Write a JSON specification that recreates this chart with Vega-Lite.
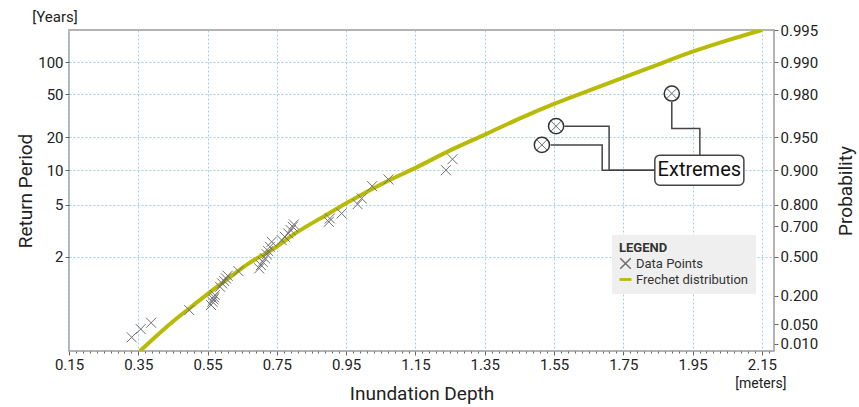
{
  "$schema": "https://vega.github.io/schema/vega-lite/v6.json",
  "width": 705,
  "height": 321,
  "autosize": {"type": "none"},
  "padding": {"left": 69, "top": 30, "right": 85, "bottom": 56},
  "background": "white",
  "config": {
    "font": "Roboto",
    "view": {"stroke": "#9a9a9a", "strokeWidth": 1.5},
    "axis": {
      "domain": false,
      "labelFont": "Roboto",
      "labelFontSize": 15,
      "labelColor": "#222222",
      "labelFlush": false,
      "labelOverlap": false,
      "tickColor": "#666666",
      "tickSize": 4,
      "titleFont": "Roboto",
      "titleFontSize": 19,
      "titleFontWeight": "normal",
      "titleColor": "#222222",
      "gridColor": "#9fcde6",
      "gridDash": [2, 2],
      "gridWidth": 1,
      "gridOpacity": 1
    }
  },
  "datasets": {
    "curve": [
      {"depth": 0.355, "z": -1.68}, {"depth": 0.40, "z": -1.37}, {"depth": 0.45, "z": -1.04},
      {"depth": 0.50, "z": -0.74}, {"depth": 0.557, "z": -0.40}, {"depth": 0.60, "z": -0.16},
      {"depth": 0.672, "z": 0.24}, {"depth": 0.74, "z": 0.54}, {"depth": 0.80, "z": 0.86},
      {"depth": 0.90, "z": 1.31}, {"depth": 0.95, "z": 1.53}, {"depth": 1.05, "z": 1.94},
      {"depth": 1.153, "z": 2.31}, {"depth": 1.25, "z": 2.68}, {"depth": 1.355, "z": 3.04},
      {"depth": 1.45, "z": 3.37}, {"depth": 1.55, "z": 3.69}, {"depth": 1.683, "z": 4.07},
      {"depth": 1.817, "z": 4.45}, {"depth": 1.952, "z": 4.83}, {"depth": 2.05, "z": 5.07},
      {"depth": 2.15, "z": 5.297}
    ],
    "points": [
      {"depth": 0.331, "z": -1.384, "series": "Data Points"},
      {"depth": 0.357, "z": -1.204, "series": "Data Points"},
      {"depth": 0.387, "z": -1.067, "series": "Data Points"},
      {"depth": 0.497, "z": -0.791, "series": "Data Points"},
      {"depth": 0.560, "z": -0.682, "series": "Data Points"},
      {"depth": 0.564, "z": -0.611, "series": "Data Points"},
      {"depth": 0.567, "z": -0.559, "series": "Data Points"},
      {"depth": 0.569, "z": -0.515, "series": "Data Points"},
      {"depth": 0.571, "z": -0.465, "series": "Data Points"},
      {"depth": 0.586, "z": -0.285, "series": "Data Points"},
      {"depth": 0.592, "z": -0.211, "series": "Data Points"},
      {"depth": 0.598, "z": -0.161, "series": "Data Points"},
      {"depth": 0.603, "z": -0.102, "series": "Data Points"},
      {"depth": 0.608, "z": -0.046, "series": "Data Points"},
      {"depth": 0.639, "z": 0.056, "series": "Data Points"},
      {"depth": 0.699, "z": 0.115, "series": "Data Points"},
      {"depth": 0.704, "z": 0.186, "series": "Data Points"},
      {"depth": 0.709, "z": 0.258, "series": "Data Points"},
      {"depth": 0.716, "z": 0.332, "series": "Data Points"},
      {"depth": 0.721, "z": 0.419, "series": "Data Points"},
      {"depth": 0.725, "z": 0.491, "series": "Data Points"},
      {"depth": 0.730, "z": 0.584, "series": "Data Points"},
      {"depth": 0.735, "z": 0.693, "series": "Data Points"},
      {"depth": 0.764, "z": 0.729, "series": "Data Points"},
      {"depth": 0.773, "z": 0.801, "series": "Data Points"},
      {"depth": 0.783, "z": 0.875, "series": "Data Points"},
      {"depth": 0.790, "z": 0.947, "series": "Data Points"},
      {"depth": 0.796, "z": 1.018, "series": "Data Points"},
      {"depth": 0.799, "z": 1.070, "series": "Data Points"},
      {"depth": 0.900, "z": 1.127, "series": "Data Points"},
      {"depth": 0.903, "z": 1.201, "series": "Data Points"},
      {"depth": 0.937, "z": 1.309, "series": "Data Points"},
      {"depth": 0.983, "z": 1.511, "series": "Data Points"},
      {"depth": 0.995, "z": 1.635, "series": "Data Points"},
      {"depth": 1.025, "z": 1.902, "series": "Data Points"},
      {"depth": 1.072, "z": 2.048, "series": "Data Points"},
      {"depth": 1.238, "z": 2.250, "series": "Data Points"},
      {"depth": 1.257, "z": 2.489, "series": "Data Points"},
      {"depth": 1.515, "z": 2.799, "series": "Data Points"},
      {"depth": 1.556, "z": 3.206, "series": "Data Points"},
      {"depth": 1.890, "z": 3.916, "series": "Data Points"}
    ],
    "extremes": [
      {"depth": 1.515, "z": 2.799},
      {"depth": 1.556, "z": 3.206},
      {"depth": 1.890, "z": 3.916}
    ],
    "connectors": [
      {"path": "A", "seq": 1, "depth": 1.580, "z": 3.206},
      {"path": "A", "seq": 2, "depth": 1.709, "z": 3.206},
      {"path": "A", "seq": 3, "depth": 1.709, "z": 2.250},
      {"path": "A", "seq": 4, "depth": 1.841, "z": 2.250},
      {"path": "B", "seq": 1, "depth": 1.540, "z": 2.799},
      {"path": "B", "seq": 2, "depth": 1.689, "z": 2.799},
      {"path": "B", "seq": 3, "depth": 1.689, "z": 2.250},
      {"path": "B", "seq": 4, "depth": 1.841, "z": 2.250},
      {"path": "C", "seq": 1, "depth": 1.890, "z": 3.731},
      {"path": "C", "seq": 2, "depth": 1.890, "z": 3.156},
      {"path": "C", "seq": 3, "depth": 1.971, "z": 3.156},
      {"path": "C", "seq": 4, "depth": 1.971, "z": 2.576}
    ],
    "box": [
      {"depth": 1.841, "depth2": 2.098, "z": 2.576, "z2": 1.924}
    ],
    "labels": [
      {"depth": 1.9695, "z": 2.25, "label": "Extremes"}
    ]
  },
  "layer": [
    {
      "data": {"name": "curve"},
      "mark": {"type": "line", "color": "#b7bb05", "strokeWidth": 4, "clip": true, "interpolate": "monotone"},
      "encoding": {
        "x": {
          "field": "depth", "type": "quantitative",
          "scale": {"domain": [0.15, 2.185], "nice": false, "zero": false},
          "axis": {
            "orient": "bottom",
            "values": [0.17,0.19,0.21,0.23,0.25,0.27,0.29,0.31,0.33,0.37,0.39,0.41,0.43,0.45,0.47,0.49,0.51,0.53,0.57,0.59,0.61,0.63,0.65,0.67,0.69,0.71,0.73,0.77,0.79,0.81,0.83,0.85,0.87,0.89,0.91,0.93,0.97,0.99,1.01,1.03,1.05,1.07,1.09,1.11,1.13,1.17,1.19,1.21,1.23,1.25,1.27,1.29,1.31,1.33,1.37,1.39,1.41,1.43,1.45,1.47,1.49,1.51,1.53,1.57,1.59,1.61,1.63,1.65,1.67,1.69,1.71,1.73,1.77,1.79,1.81,1.83,1.85,1.87,1.89,1.91,1.93,1.97,1.99,2.01,2.03,2.05,2.07,2.09,2.11,2.13,2.17],
            "labels": false, "grid": false, "tickSize": 2, "title": null
          }
        },
        "y": {
          "field": "z", "type": "quantitative",
          "scale": {"domain": [-1.681, 5.297], "nice": false, "zero": false},
          "axis": {
            "orient": "right",
            "values": [-1.5272, -1.0972, -0.4759, 0.3665, 1.0309, 1.4999, 2.2504, 2.9702, 3.9019, 4.6001, 5.2958],
            "labelExpr": "format(exp(-exp(-datum.value)), '.3f')",
            "grid": false,
            "title": "Probability",
            "titleAngle": 270,
            "titleBaseline": "top",
            "titlePadding": 19
          }
        }
      }
    },
    {
      "encoding": {
        "x": {
          "field": "depth", "type": "quantitative",
          "scale": {"domain": [0.15, 2.185], "nice": false, "zero": false},
          "axis": {
            "orient": "bottom",
            "values": [0.15, 0.35, 0.55, 0.75, 0.95, 1.15, 1.35, 1.55, 1.75, 1.95, 2.15],
            "format": ".2f",
            "grid": true,
            "tickSize": 4,
            "title": "Inundation Depth",
            "titlePadding": 12
          }
        },
        "y": {
          "field": "z", "type": "quantitative",
          "scale": {"domain": [-1.681, 5.297], "nice": false, "zero": false},
          "axis": {
            "orient": "left",
            "values": [0.3665, 1.4999, 2.2504, 2.9702, 3.9019, 4.6001],
            "labelExpr": "format(1/(1-exp(-exp(-datum.value))), '.0f')",
            "grid": true,
            "title": "Return Period",
            "titlePadding": 2
          }
        }
      },
      "layer": [
        {
          "data": {"name": "points"},
          "mark": {"type": "point", "filled": false, "strokeWidth": 1, "size": 100, "opacity": 1},
          "encoding": {
            "color": {
              "field": "series", "type": "nominal",
              "scale": {"domain": ["Data Points", "Frechet distribution"], "range": ["#6f6f6f", "#b7bb05"]},
              "legend": {
                "title": "LEGEND",
                "orient": "none",
                "legendX": 543,
                "legendY": 205,
                "fillColor": "#efefef",
                "padding": 7,
                "titleFont": "Roboto",
                "titleFontSize": 13,
                "titleFontWeight": "bold",
                "titleColor": "#333333",
                "titlePadding": 2,
                "labelFont": "Roboto",
                "labelFontSize": 13,
                "labelColor": "#333333",
                "symbolSize": 110,
                "symbolStrokeWidth": 1.5,
                "rowPadding": 1
              }
            },
            "shape": {
              "field": "series", "type": "nominal",
              "scale": {"domain": ["Data Points", "Frechet distribution"], "range": ["M-1,-1L1,1M1,-1L-1,1", "M-1,-0.12H1V0.12H-1Z"]}
            }
          }
        },
        {
          "data": {"name": "extremes"},
          "mark": {"type": "point", "shape": "circle", "filled": false, "size": 230, "stroke": "#333333", "strokeWidth": 1.5, "opacity": 1}
        },
        {
          "data": {"name": "connectors"},
          "mark": {"type": "line", "color": "#444444", "strokeWidth": 1.5},
          "encoding": {
            "detail": {"field": "path"},
            "order": {"field": "seq", "type": "quantitative"}
          }
        },
        {
          "data": {"name": "box"},
          "mark": {"type": "rect", "fill": "white", "stroke": "#444444", "strokeWidth": 1.5, "cornerRadius": 5},
          "encoding": {
            "x2": {"field": "depth2"},
            "y2": {"field": "z2"}
          }
        },
        {
          "data": {"name": "labels"},
          "mark": {"type": "text", "fontSize": 20, "font": "Roboto", "color": "#111111", "align": "center", "baseline": "middle"},
          "encoding": {
            "text": {"field": "label"}
          }
        },
        {
          "data": {"values": [{"depth": 0.15, "z": 5.297, "unit": "[Years]"}]},
          "mark": {"type": "text", "fontSize": 15, "font": "Roboto", "color": "#222222", "align": "center", "baseline": "middle", "dx": -14, "dy": -13},
          "encoding": {
            "text": {"field": "unit"}
          }
        },
        {
          "data": {"values": [{"depth": 2.15, "z": -1.681, "unit": "[meters]"}]},
          "mark": {"type": "text", "fontSize": 14, "font": "Roboto", "color": "#222222", "align": "center", "baseline": "middle", "dx": -1, "dy": 33},
          "encoding": {
            "text": {"field": "unit"}
          }
        }
      ]
    }
  ],
  "resolve": {"scale": {"y": "independent"}, "axis": {"x": "independent"}}
}
